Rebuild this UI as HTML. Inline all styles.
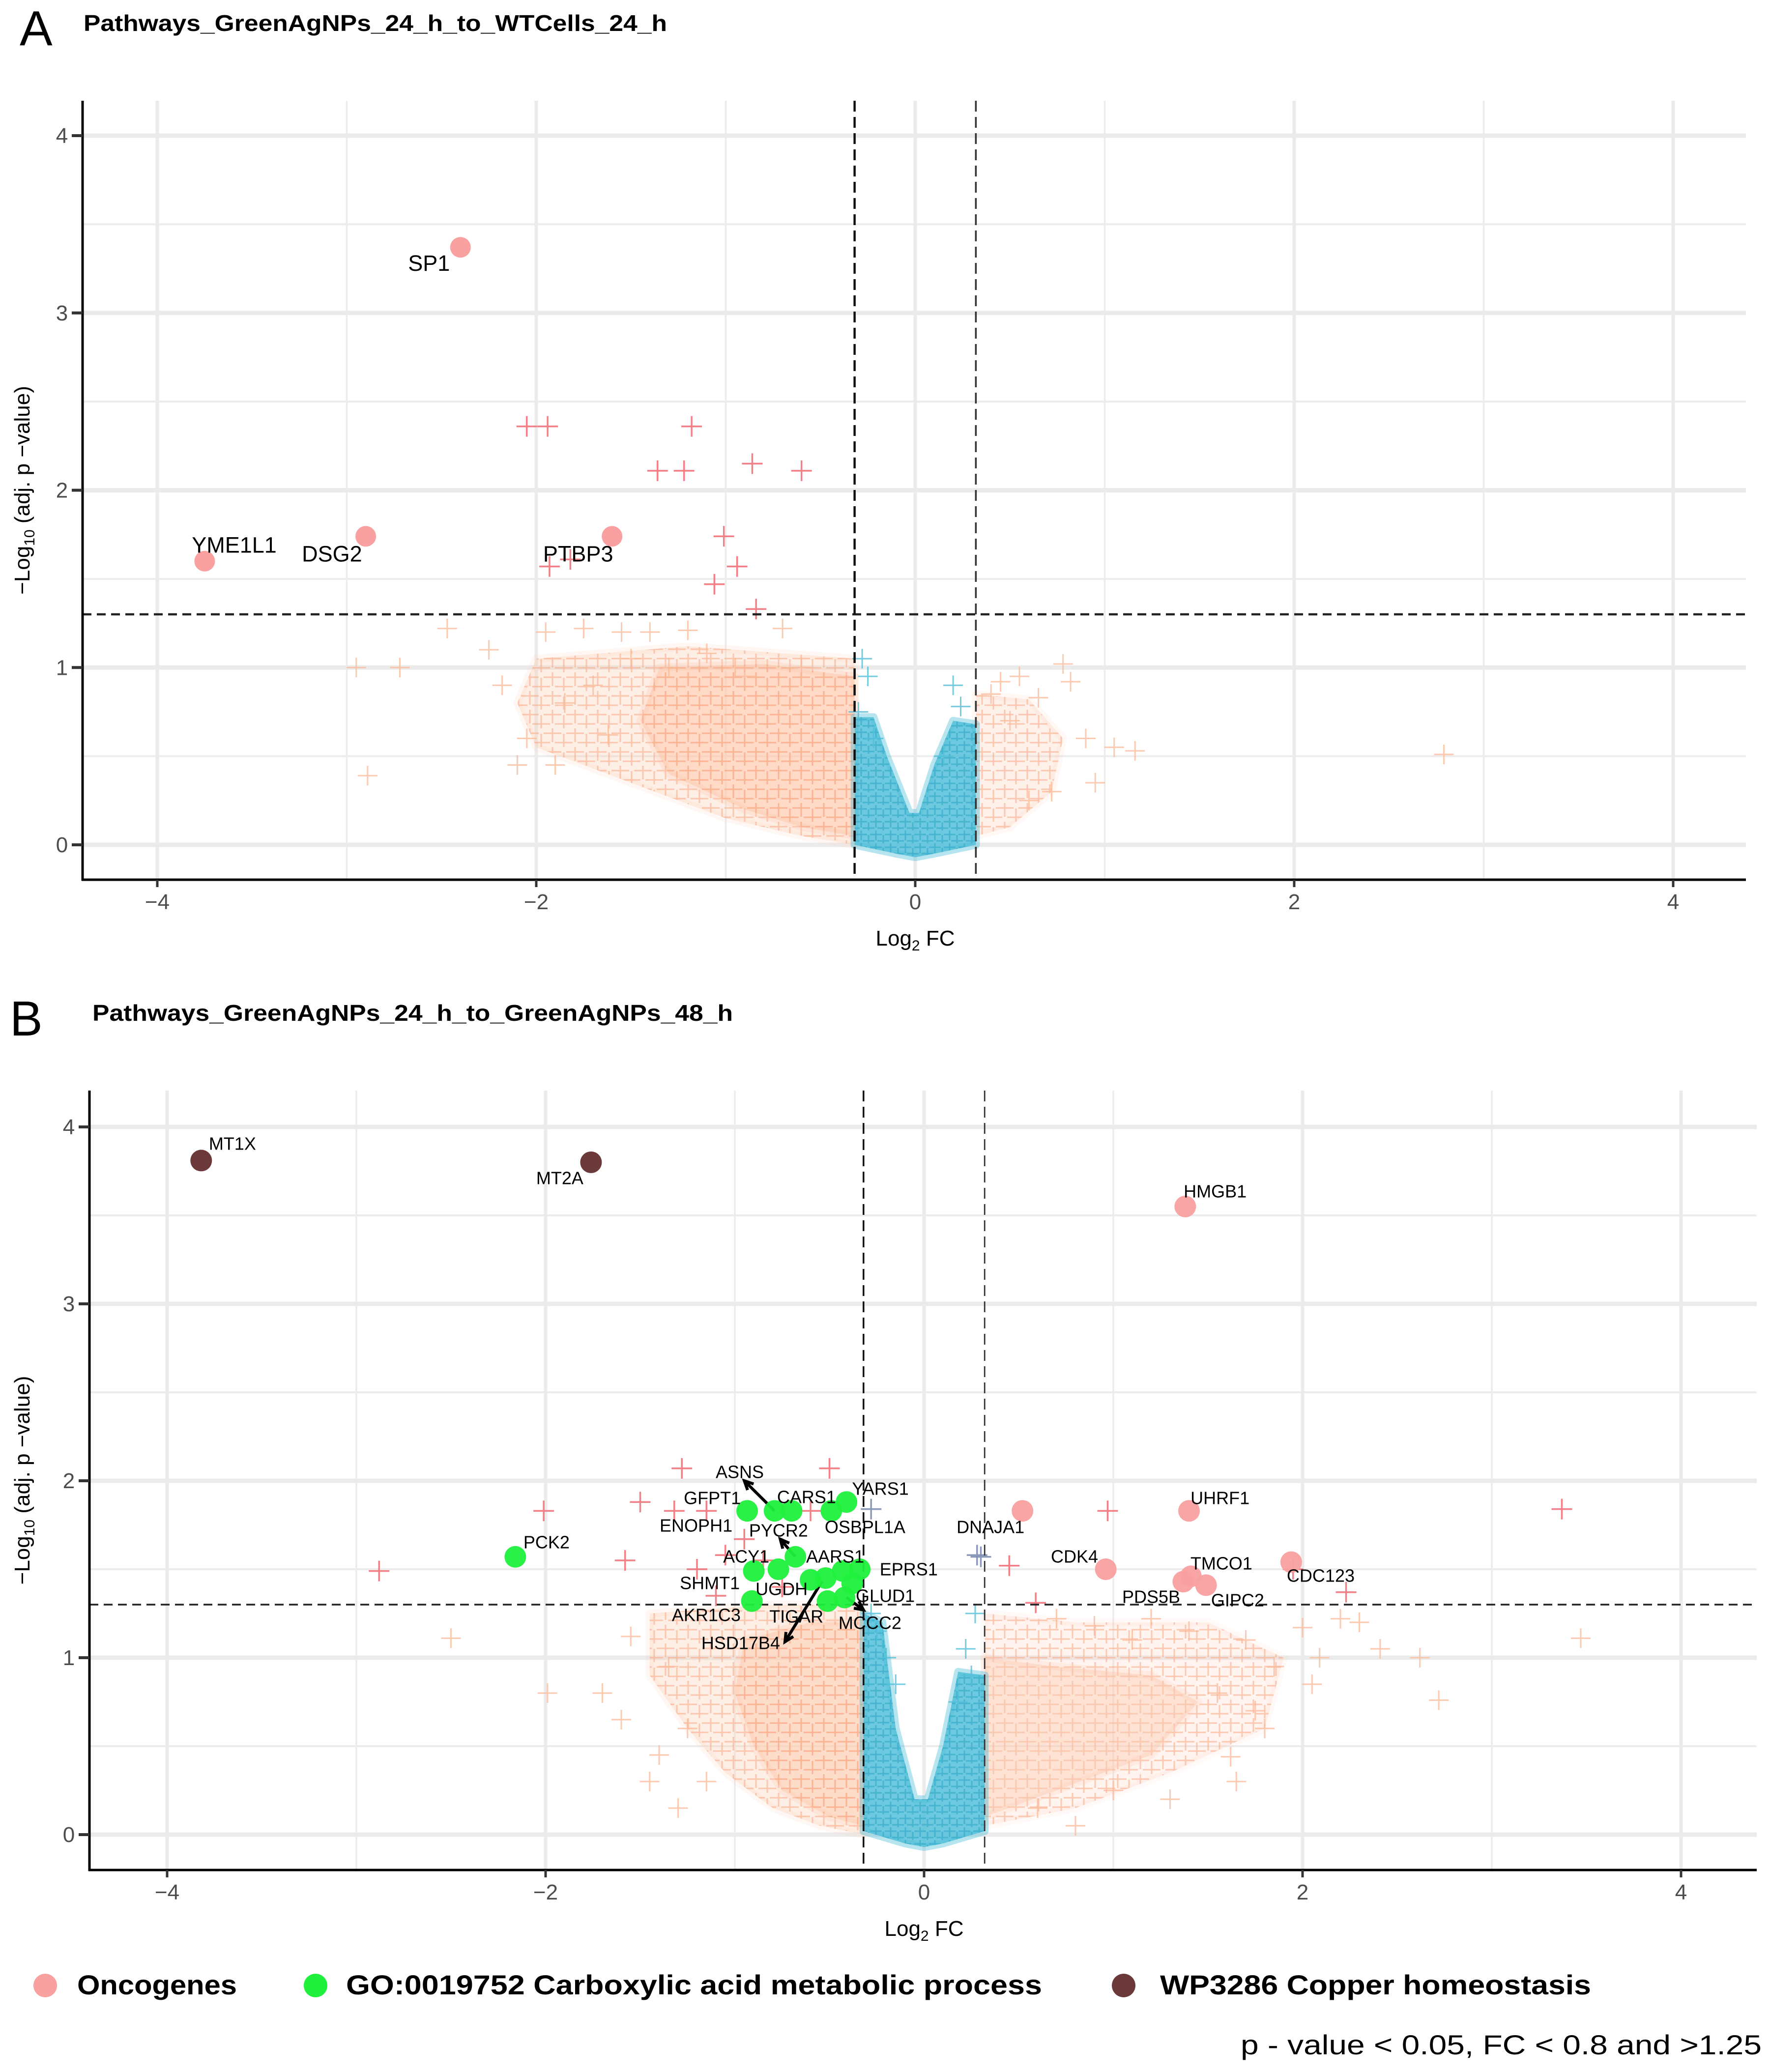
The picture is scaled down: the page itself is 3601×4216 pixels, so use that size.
<!DOCTYPE html>
<html><head><meta charset="utf-8">
<style>
html,body{margin:0;padding:0;background:#fff;}
svg{display:block;font-family:"Liberation Sans",sans-serif;}
</style></head>
<body>
<svg id="chart" xmlns="http://www.w3.org/2000/svg" width="3601" height="4216" viewBox="0 0 3601 4216">
<defs>
<pattern id="pPeach" width="46" height="38" patternUnits="userSpaceOnUse">
<path d="M2,10H38M20,-8V28M25,29H61M43,11V47M-21,29H15M-3,11V47" stroke="#f7a37f" stroke-opacity="0.55" stroke-width="3" fill="none"/>
</pattern>
<pattern id="pBlue" width="30" height="26" patternUnits="userSpaceOnUse">
<path d="M0,8H24M12,-4V20M15,21H39M27,9V33M-15,21H9M-3,9V33" stroke="#2ea6c6" stroke-opacity="0.6" stroke-width="3" fill="none"/>
</pattern>
</defs>
<rect x="0" y="0" width="3601" height="4216" fill="#fff"/>
<g id="panelA"></g>
<g id="panelB"></g>
<g id="legend"></g>
</svg>
<script>
// ---------- DATA: panel A ----------
const aHiX = [-2.4, -3.75, -2.9, -1.6];
const aHiY = [3.37, 1.6, 1.74, 1.74];
const aHiLabel = ['SP1', 'YME1L1', 'DSG2', 'PTBP3'];
const aHiLabelX = [-2.566, -3.594, -3.078, -1.779];
const aHiLabelY = [3.281, 1.691, 1.641, 1.641];
const aSigX = [-2.05, -1.94, -1.18, -1.36, -1.22, -0.86, -0.60, -1.01, -0.94, -1.06, -1.93, -1.82, -0.84];
const aSigY = [2.36, 2.36, 2.36, 2.11, 2.11, 2.15, 2.11, 1.74, 1.57, 1.47, 1.57, 1.61, 1.33];
const aNsX = [-2.89, -2.72, -2.47, -2.95, -2.25, -2.18, -2.1, -1.95, -1.75, -1.55, -1.85, -1.62, -1.4, -1.2, -0.95, -0.7, -2.05, -1.9, -1.7, -1.5, -1.3, -1.1, -0.9, -0.6, 0.45, 0.55, 0.65, 0.78, 0.82, 0.9, 1.05, 1.16, 2.79, 0.6, 0.72, 0.5, 0.95, 0.4];
const aNsY = [0.39, 1.0, 1.22, 1.0, 1.1, 0.9, 0.45, 1.2, 1.22, 1.2, 0.8, 0.62, 1.2, 1.21, 1.0, 1.22, 0.6, 0.45, 0.9, 1.05, 1.0, 1.08, 0.95, 1.0, 0.92, 0.95, 0.83, 1.02, 0.92, 0.6, 0.55, 0.53, 0.51, 0.25, 0.3, 0.7, 0.35, 0.85];
const aBlueX = [-0.28, -0.25, -0.22, 0.2, 0.24, 0.15, -0.3];
const aBlueY = [1.05, 0.95, 0.6, 0.9, 0.78, 0.5, 0.75];
const aPeachOuterX = [-2.0, -1.2, -0.32, -0.32, -0.6, -1.0, -1.5, -2.0, -2.1];
const aPeachOuterY = [1.05, 1.12, 1.05, 0.0, 0.05, 0.15, 0.35, 0.55, 0.8];
const aPeachCoreX = [-1.35, -0.8, -0.32, -0.32, -0.6, -0.9, -1.3, -1.45];
const aPeachCoreY = [1.0, 1.02, 0.95, 0.05, 0.1, 0.2, 0.4, 0.7];
const aPeachRX = [0.32, 0.6, 0.78, 0.72, 0.5, 0.32];
const aPeachRY = [0.85, 0.82, 0.6, 0.3, 0.1, 0.05];
const aBlueVX = [-0.32, -0.32, -0.1, 0, 0.1, 0.32, 0.32, 0.2, 0.1, 0.02, -0.03, -0.15, -0.22];
const aBlueVY = [0.72, 0.0, -0.05, -0.07, -0.05, 0.0, 0.68, 0.7, 0.45, 0.18, 0.18, 0.5, 0.72];

// ---------- DATA: panel B ----------
const bGreenX = [-0.935, -0.79, -0.70, -0.49, -0.41, -2.16, -0.68, -0.90, -0.77, -0.60, -0.52, -0.43, -0.34, -0.38, -0.91, -0.51, -0.42];
const bGreenY = [1.83, 1.83, 1.83, 1.83, 1.88, 1.57, 1.57, 1.49, 1.50, 1.44, 1.45, 1.49, 1.50, 1.42, 1.32, 1.32, 1.34];
const bPinkX = [0.52, 1.40, 0.96, 1.41, 1.37, 1.49, 1.38, 1.94];
const bPinkY = [1.83, 1.83, 1.50, 1.46, 1.43, 1.41, 3.55, 1.54];
const bBrownX = [-3.82, -1.76];
const bBrownY = [3.81, 3.80];
const bLabels = ['ASNS','GFPT1','CARS1','YARS1','ENOPH1','PYCR2','OSBPL1A','DNAJA1','PCK2','ACY1','AARS1','EPRS1','CDK4','SHMT1','UGDH','GLUD1','AKR1C3','TIGAR','MCCC2','HSD17B4','UHRF1','TMCO1','PDS5B','GIPC2','HMGB1','MT1X','MT2A','CDC123'];
const bLabelX = [-0.974,-1.119,-0.621,-0.231,-1.205,-0.769,-0.312,0.351,-1.995,-0.940,-0.470,-0.081,0.795,-1.132,-0.753,-0.205,-1.151,-0.675,-0.286,-0.969,1.564,1.571,1.2,1.657,1.538,-3.655,-1.925,2.096];
const bLabelY = [2.05,1.903,1.908,1.956,1.747,1.719,1.739,1.739,1.653,1.572,1.572,1.5,1.572,1.422,1.389,1.35,1.242,1.233,1.197,1.083,1.903,1.533,1.344,1.325,3.636,3.906,3.711,1.464];
const bArrowX1 = [-0.79, -0.68, -0.54, -0.41];
const bArrowY1 = [1.83, 1.57, 1.43, 1.34];
const bArrowX2 = [-0.95, -0.76, -0.735, -0.32];
const bArrowY2 = [2.0, 1.67, 1.09, 1.27];
const bSigX = [-1.28, -0.50, -1.50, -2.01, -1.32, -1.15, -1.58, 0.97, 0.59, 3.37, -2.88, 2.23, -1.2, -1.05, -0.95, -0.6, -0.75, -1.1, -0.85, 1.95, 0.45];
const bSigY = [2.07, 2.07, 1.88, 1.83, 1.83, 1.83, 1.55, 1.83, 1.31, 1.84, 1.49, 1.37, 1.5, 1.58, 1.67, 1.83, 1.4, 1.35, 1.55, 1.5, 1.52];
const bGrayX = [-0.28, 0.28, 0.3];
const bGrayY = [1.84, 1.58, 1.57];
const bNsX = [-2.50, -1.99, 2.41, 2.62, 2.72, 3.47, 1.62, 2.09, -1.7, -1.55, -1.35, -1.45, -1.25, -1.6, 1.7, 1.85, 2.0, 2.2, 1.8, 1.55, 1.65, 2.3, 1.4, 1.2, 0.7, 0.9, 1.1, -1.3, -1.15, -1.4, 0.6, 0.8, 1.0, 1.3, 1.75, 2.05];
const bNsY = [1.11, 0.80, 1.05, 1.0, 0.76, 1.11, 0.44, 1.0, 0.8, 1.12, 0.95, 0.3, 0.6, 0.65, 1.1, 0.95, 1.17, 1.22, 0.6, 0.8, 0.3, 1.2, 1.15, 1.22, 1.22, 1.18, 1.1, 0.15, 0.3, 0.45, 0.15, 0.05, 0.25, 0.2, 0.7, 0.85];
const bBlueX = [-0.28, -0.25, -0.2, 0.22, 0.27, 0.25, 0.18, -0.15];
const bBlueY = [1.25, 1.15, 1.0, 1.05, 1.25, 0.9, 0.75, 0.85];
const bPeachOuterX = [-1.45, -0.8, -0.32, -0.32, -0.55, -0.8, -1.05, -1.25, -1.45];
const bPeachOuterY = [1.25, 1.3, 1.3, 0.0, 0.05, 0.15, 0.35, 0.6, 0.9];
const bPeachCoreX = [-0.95, -0.6, -0.32, -0.32, -0.5, -0.75, -0.9, -1.0];
const bPeachCoreY = [1.1, 1.2, 1.2, 0.05, 0.1, 0.25, 0.5, 0.8];
const bPeachROuterX = [0.32, 0.8, 1.5, 1.9, 1.8, 1.3, 0.8, 0.32];
const bPeachROuterY = [1.25, 1.2, 1.2, 1.0, 0.6, 0.35, 0.15, 0.05];
const bPeachRCoreX = [0.32, 0.7, 1.2, 1.45, 1.2, 0.7, 0.32];
const bPeachRCoreY = [1.0, 0.95, 0.9, 0.75, 0.45, 0.25, 0.1];
const bBlueVX = [-0.32, -0.32, -0.1, 0, 0.1, 0.32, 0.32, 0.18, 0.1, 0.02, -0.05, -0.15, -0.22];
const bBlueVY = [1.25, 0.02, -0.05, -0.07, -0.05, 0.02, 0.9, 0.92, 0.5, 0.2, 0.2, 0.6, 1.2];

const xTicks = [-4, -2, 0, 2, 4];
const xTickLabels = ['\u22124', '\u22122', '0', '2', '4'];
const yTicks = [0, 1, 2, 3, 4];
const yTickLabels = ['0', '1', '2', '3', '4'];

const NS = 'http://www.w3.org/2000/svg';
function mk(tag, attrs, parent) {
  const e = document.createElementNS(NS, tag);
  for (const k in attrs) e.setAttribute(k, attrs[k]);
  parent.appendChild(e);
  return e;
}

function panel(g, cfg) {
  const sx = v => cfg.x0 + v * cfg.ux;
  const sy = v => cfg.y0 - v * cfg.uy;
  const grid = mk('g', {}, g);
  
  
  [-3, -1, 1, 3].forEach(v => {
    const l = mk('line', {x1: sx(v), x2: sx(v), y1: cfg.top, y2: cfg.bottom, stroke: '#ececec', 'stroke-width': 3.5}, grid);
    
    
  });
  [0.5, 1.5, 2.5, 3.5].forEach(v => {
    const l = mk('line', {x1: cfg.left, x2: cfg.right, y1: sy(v), y2: sy(v), stroke: '#ececec', 'stroke-width': 4}, grid);
    
    
  });
  xTicks.forEach(v => {
    const l = mk('line', {x1: sx(v), x2: sx(v), y1: cfg.top, y2: cfg.bottom, stroke: '#ebebeb', 'stroke-width': 7}, grid);
    
    
  });
  yTicks.forEach(v => {
    const l = mk('line', {x1: cfg.left, x2: cfg.right, y1: sy(v), y2: sy(v), stroke: '#ebebeb', 'stroke-width': 9}, grid);
    
    
  });
  const poly = (xs, ys, fill, op, name, pat) => {
    const pts = xs.map((x, i) => sx(x) + ',' + sy(ys[i])).join(' ');
    const p = mk('polygon', {points: pts, fill: fill, 'fill-opacity': op, stroke: fill, 'stroke-opacity': op * 0.5, 'stroke-width': 16, 'stroke-linejoin': 'round'}, g);
    
    
    if (pat) {
      const q = mk('polygon', {points: pts, fill: 'url(#' + pat + ')'}, g);
      
      
    }
  };
  cfg.clouds.forEach(c => poly(c[0], c[1], c[2], c[3], c[4], c[5]));
  const cross = (xs, ys, col, op, name, sz, w) => {
    xs.forEach((x, i) => {
      const px = sx(x), py = sy(ys[i]);
      const c = mk('path', {d: `M${px - sz},${py}H${px + sz}M${px},${py - sz}V${py + sz}`, stroke: col, 'stroke-opacity': op, 'stroke-width': w, fill: 'none'}, g);
      
      
    });
  };
  cfg.crosses.forEach(c => cross(c[0], c[1], c[2], c[3], c[4], c[5], c[6]));
  const th = mk('g', {}, g);
  
  
  mk('line', {x1: cfg.left, x2: cfg.right, y1: sy(1.3), y2: sy(1.3), stroke: '#222', 'stroke-width': cfg.dashW, 'stroke-dasharray': '18 11'}, th);
  mk('line', {x1: sx(-0.32), x2: sx(-0.32), y1: cfg.top, y2: cfg.bottom, stroke: '#111', 'stroke-width': cfg.dashW, 'stroke-dasharray': '22 11'}, th);
  mk('line', {x1: sx(0.32), x2: sx(0.32), y1: cfg.top, y2: cfg.bottom, stroke: '#333', 'stroke-width': cfg.dashW * 0.8, 'stroke-dasharray': '22 11'}, th);
  (cfg.arrows || []).forEach(a => {
    const x1 = sx(a[0]), y1 = sy(a[1]), x2 = sx(a[2]), y2 = sy(a[3]);
    const ang = Math.atan2(y2 - y1, x2 - x1), L = 20;
    const ar = mk('path', {d: `M${x1},${y1}L${x2},${y2}M${x2 - L * Math.cos(ang - 0.45)},${y2 - L * Math.sin(ang - 0.45)}L${x2},${y2}L${x2 - L * Math.cos(ang + 0.45)},${y2 - L * Math.sin(ang + 0.45)}`, stroke: '#000', 'stroke-width': 6, fill: 'none'}, g);
    
    
  });
  cfg.dots.forEach(d => {
    d[0].forEach((x, i) => {
      const c = mk('circle', {cx: sx(x), cy: sy(d[1][i]), r: cfg.r, fill: d[2], 'fill-opacity': d[3]}, g);
      
      
    });
  });
  cfg.labels[0].forEach((t, i) => {
    const tx = mk('text', {x: sx(cfg.labels[1][i]), y: sy(cfg.labels[2][i]), 'text-anchor': 'middle', 'dominant-baseline': 'central', 'font-size': cfg.labFs, fill: '#000'}, g);
    tx.textContent = t;
    
    
  });
  const ax = mk('g', {}, g);
  
  
  mk('line', {x1: cfg.left, x2: cfg.left, y1: cfg.top, y2: cfg.bottom + 2, stroke: '#000', 'stroke-width': 5}, ax);
  mk('line', {x1: cfg.left - 2, x2: cfg.right, y1: cfg.bottom, y2: cfg.bottom, stroke: '#000', 'stroke-width': 5}, ax);
  xTicks.forEach((v, i) => {
    mk('line', {x1: sx(v), x2: sx(v), y1: cfg.bottom, y2: cfg.bottom + 15, stroke: '#333', 'stroke-width': 5}, ax);
    const t = mk('text', {x: sx(v), y: cfg.bottom + 60, 'text-anchor': 'middle', 'font-size': 44, fill: '#4d4d4d'}, ax);
    t.textContent = xTickLabels[i];
    
    
  });
  yTicks.forEach((v, i) => {
    mk('line', {x1: cfg.left - 22, x2: cfg.left, y1: sy(v), y2: sy(v), stroke: '#333', 'stroke-width': 6}, ax);
    const t = mk('text', {x: cfg.left - 42, y: sy(v) + 15, 'text-anchor': 'middle', 'font-size': 44, fill: '#4d4d4d'}, ax);
    t.textContent = yTickLabels[i];
    
    
  });
  const xt = mk('text', {x: sx(0), y: cfg.bottom + 134, 'text-anchor': 'middle', 'font-size': 44, fill: '#000'}, g);
  xt.innerHTML = 'Log<tspan font-size="30" dy="10">2</tspan><tspan dy="-10"> FC</tspan>';
  
  
  const yc = (cfg.top + cfg.bottom) / 2;
  const yt = mk('text', {x: 0, y: 0, transform: `translate(${cfg.yTitleX},${yc}) rotate(-90)`, 'text-anchor': 'middle', 'font-size': 44, fill: '#000'}, g);
  yt.innerHTML = '\u2212Log<tspan font-size="30" dy="10">10</tspan><tspan dy="-10"> (adj. p \u2212value)</tspan>';
  
  
  const letter = mk('text', {x: cfg.letterX, y: cfg.letterY, 'font-size': 100, fill: '#000'}, g);
  letter.textContent = cfg.letter;
  
  
  const tt = mk('text', {x: cfg.titleX, y: cfg.titleY, 'font-size': 46, 'font-weight': 'bold', fill: '#000', textLength: cfg.titleW, lengthAdjust: 'spacingAndGlyphs'}, g);
  tt.textContent = cfg.title;
  
  
}

const PEACH = '#fdc9ad', BLUE = '#52bfd9', RED = '#f26a72';
panel(document.getElementById('panelA'), {
  x0: 1862, ux: 385.5, y0: 1719, uy: 360.75, left: 168, right: 3552, top: 205, bottom: 1790,
  dashW: 4.5, r: 21, labFs: 45, yTitleX: 60,
  letter: 'A', letterX: 40, letterY: 92, title: 'Pathways_GreenAgNPs_24_h_to_WTCells_24_h', titleX: 170, titleY: 63, titleW: 1187,
  clouds: [[aPeachOuterX, aPeachOuterY, PEACH, 0.3, 'ns-cloud-left-outer', 'pPeach'], [aPeachCoreX, aPeachCoreY, PEACH, 0.55, 'ns-cloud-left-core', 'pPeach'], [aPeachRX, aPeachRY, PEACH, 0.25, 'ns-cloud-right', 'pPeach'], [aBlueVX, aBlueVY, BLUE, 0.85, 'low-fc-cloud', 'pBlue']],
  crosses: [[aNsX, aNsY, '#fbb897', 0.75, 'ns-point', 20, 3], [aBlueX, aBlueY, BLUE, 0.8, 'low-fc-point', 20, 3], [aSigX, aSigY, RED, 0.85, 'sig-point', 21, 3.5]],
  dots: [[aHiX, aHiY, '#f9a0a0', 1, 'oncogene-point']],
  labels: [aHiLabel, aHiLabelX, aHiLabelY]
});
panel(document.getElementById('panelB'), {
  x0: 1880, ux: 385, y0: 3733, uy: 360, left: 182, right: 3574, top: 2219, bottom: 3805,
  dashW: 3.5, r: 22, labFs: 36, yTitleX: 60,
  letter: 'B', letterX: 20, letterY: 2107, title: 'Pathways_GreenAgNPs_24_h_to_GreenAgNPs_48_h', titleX: 188, titleY: 2077, titleW: 1303,
  clouds: [[bPeachOuterX, bPeachOuterY, PEACH, 0.3, 'ns-cloud-left-outer', 'pPeach'], [bPeachCoreX, bPeachCoreY, PEACH, 0.5, 'ns-cloud-left-core', 'pPeach'], [bPeachROuterX, bPeachROuterY, PEACH, 0.2, 'ns-cloud-right-outer', 'pPeach'], [bPeachRCoreX, bPeachRCoreY, PEACH, 0.4, 'ns-cloud-right-core', null], [bBlueVX, bBlueVY, BLUE, 0.85, 'low-fc-cloud', 'pBlue']],
  crosses: [[bNsX, bNsY, '#fbb897', 0.75, 'ns-point', 20, 3], [bBlueX, bBlueY, BLUE, 0.8, 'low-fc-point', 20, 3], [bSigX, bSigY, RED, 0.85, 'sig-point', 21, 3.5], [bGrayX, bGrayY, '#7f8fb3', 0.9, 'sig-low-fc-point', 21, 3.5]],
  arrows: bArrowX1.map((x, i) => [x, bArrowY1[i], bArrowX2[i], bArrowY2[i]]),
  dots: [[bPinkX, bPinkY, '#f9a0a0', 0.95, 'oncogene-point'], [bGreenX, bGreenY, '#1ff03c', 0.95, 'carboxylic-acid-point'], [bBrownX, bBrownY, '#6b3939', 1, 'copper-homeostasis-point']],
  labels: [bLabels, bLabelX, bLabelY]
});

const lg = document.getElementById('legend');
const legendItems = [['Oncogenes', '#f9a0a0', 92, 157, 325], ['GO:0019752 Carboxylic acid metabolic process', '#1ff03c', 642, 704, 1416], ['WP3286 Copper homeostasis', '#6b3939', 2286, 2360, 877]];
legendItems.forEach(it => {
  const g = mk('g', {}, lg);
  
  
  mk('circle', {cx: it[2], cy: 4040, r: 24, fill: it[1]}, g);
  const t = mk('text', {x: it[3], y: 4058, 'font-size': 56, 'font-weight': 'bold', fill: '#000', textLength: it[4], lengthAdjust: 'spacingAndGlyphs'}, g);
  t.textContent = it[0];
});
const fn = mk('text', {x: 2524, y: 4180, 'font-size': 56, fill: '#000', textLength: 1060, lengthAdjust: 'spacingAndGlyphs'}, lg);
fn.textContent = 'p - value < 0.05, FC < 0.8 and >1.25';


</script>
</body></html>
